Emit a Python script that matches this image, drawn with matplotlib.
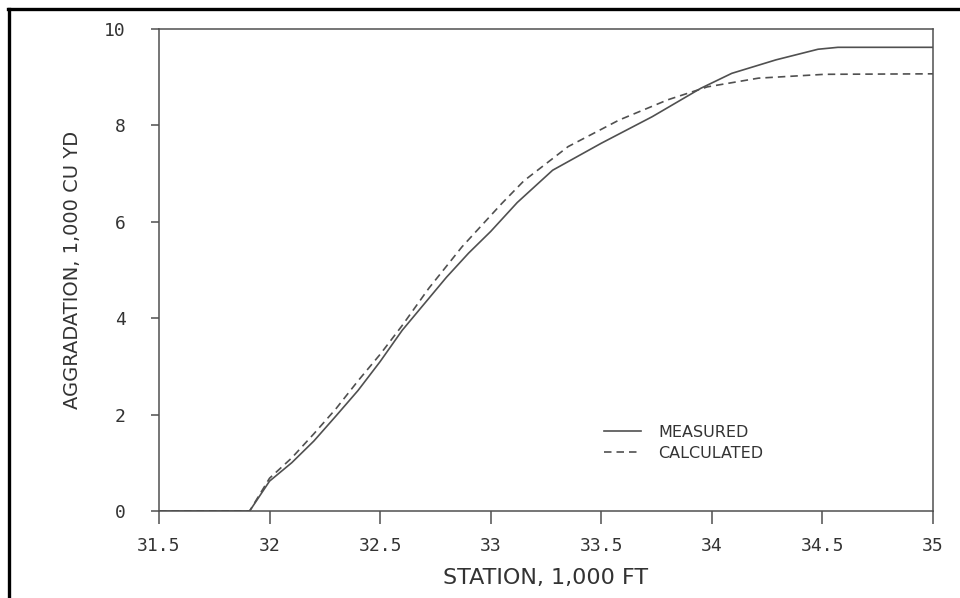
import matplotlib.pyplot as plt
from matplotlib.lines import Line2D

# values (station in 1,000 ft, volume in 1,000 cu yd)
measured_x = [31.5, 31.91, 32.0, 32.1, 32.2, 32.3, 32.4, 32.5, 32.6, 32.7,
              32.8, 32.9, 33.0, 33.12, 33.28, 33.5, 33.73, 33.95, 34.09,
              34.29, 34.48, 34.57, 35.0]
measured_y = [0.0, 0.0, 0.62, 1.0, 1.45, 1.97, 2.5, 3.1, 3.75, 4.3,
              4.85, 5.35, 5.8, 6.4, 7.07, 7.63, 8.18, 8.77, 9.08,
              9.36, 9.58, 9.62, 9.62]

calc_x = [31.5, 31.91, 32.0, 32.1, 32.2, 32.3, 32.4, 32.5, 32.6, 32.72,
          32.87, 33.05, 33.15, 33.35, 33.58, 33.8, 33.98, 34.21, 34.51, 35.0]
calc_y = [0.0, 0.0, 0.68, 1.1, 1.6, 2.12, 2.7, 3.25, 3.85, 4.62,
          5.48, 6.38, 6.85, 7.56, 8.11, 8.53, 8.8, 8.98, 9.06, 9.07]

x_ticks = [31.5, 32, 32.5, 33, 33.5, 34, 34.5, 35]
x_tick_labels = ['31.5', '32', '32.5', '33', '33.5', '34', '34.5', '35']
y_ticks = [0, 2, 4, 6, 8, 10]

ink = '#505050'
text_ink = '#333333'
tick_font = {'family': 'DejaVu Sans Mono', 'size': 13, 'color': text_ink}

fig = plt.figure(figsize=(9.6, 5.98), dpi=100)
ax = fig.add_axes([0.1656, 0.1455, 0.8063, 0.806])

ax.plot(measured_x, measured_y, color=ink, lw=1.2, label='MEASURED')
ax.plot(calc_x, calc_y, color=ink, lw=1.2, dashes=(4.5, 3), label='CALCULATED')

ax.set_xlim(31.5, 35)
ax.set_ylim(0, 10)
ax.set_xticks(x_ticks)
ax.set_xticklabels(x_tick_labels, fontdict=tick_font)
ax.set_yticks(y_ticks)
ax.set_yticklabels([str(v) for v in y_ticks], fontdict=tick_font)
ax.tick_params(axis='x', direction='out', length=9, width=1.1, color=ink, pad=10)
ax.tick_params(axis='y', direction='out', length=6, width=1.1, color=ink, pad=18)

for s in ax.spines.values():
    s.set_color(ink)
    s.set_linewidth(1.1)

ax.set_xlabel('STATION, 1,000 FT', fontsize=16, color=text_ink, labelpad=9)
ax.set_ylabel('AGGRADATION, 1,000 CU YD', fontsize=14, color=text_ink, labelpad=16)

leg = ax.legend(loc='lower left', bbox_to_anchor=(0.5645, 0.088), frameon=False,
                fontsize=11.5, handlelength=2.3, handletextpad=1.1,
                labelspacing=0.35, borderpad=0)
for t in leg.get_texts():
    t.set_color(text_ink)

# black scan frame on the left and top
fig.add_artist(Line2D([0.009, 0.009], [0.0, 0.985], color='black', lw=2.4,
                      transform=fig.transFigure))
fig.add_artist(Line2D([0.008, 1.0], [0.985, 0.985], color='black', lw=2.4,
                      transform=fig.transFigure))

fig.savefig('out.png', dpi=100)
